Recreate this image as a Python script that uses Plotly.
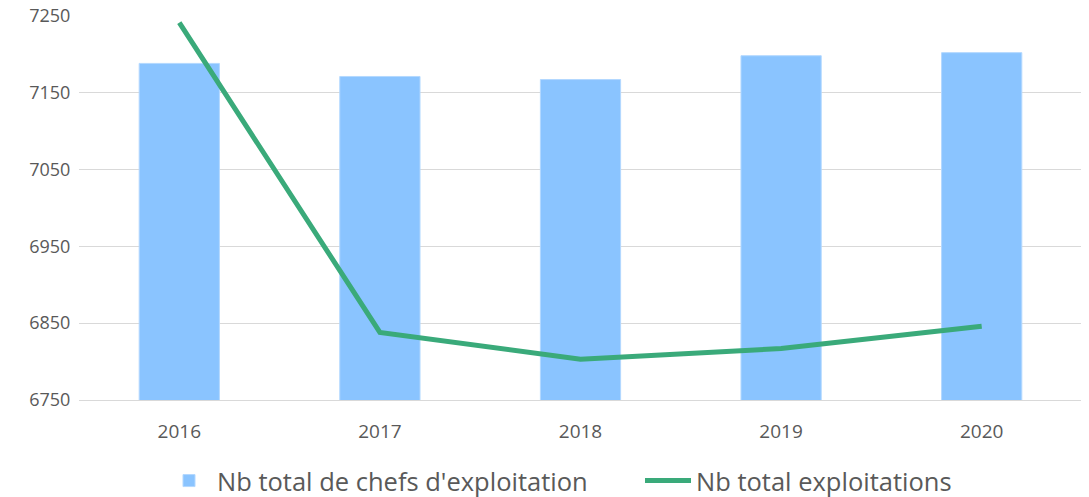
import plotly.graph_objects as go

years = ["2016", "2017", "2018", "2019", "2020"]
chefs = [7188, 7171, 7167, 7198, 7202]
exploitations = [7241, 6838, 6803, 6817, 6846]
y_ticks = [6750, 6850, 6950, 7050, 7150, 7250]

# the page body has an 8px margin, so the figure is made 8px smaller
W, H = 1081, 489

fig = go.Figure()
fig.add_trace(
    go.Bar(
        x=years,
        y=chefs,
        name="Nb total de chefs d'exploitation",
        marker=dict(color="#8AC4FF", line=dict(color="#B3D8FF", width=1)),
        legend="legend",
    )
)
fig.add_trace(
    go.Scatter(
        x=years,
        y=exploitations,
        mode="lines",
        name="Nb total exploitations",
        line=dict(color="#3AAA7A", width=5),
        legend="legend2",
    )
)

# two legends so each entry can sit where it does in the original
legend_style = dict(
    orientation="h",
    xref="container",
    yref="container",
    xanchor="left",
    y=1 - 473 / H,
    yanchor="middle",
    font=dict(size=25.5),
    itemwidth=46,
    bgcolor="rgba(0,0,0,0)",
)

fig.update_layout(
    width=W,
    height=H,
    margin=dict(l=71, r=7, t=7, b=97),
    plot_bgcolor="white",
    paper_bgcolor="white",
    bargap=0.6,
    showlegend=True,
    font=dict(family="Open Sans", color="#595959", size=15),
    legend=dict(legend_style, x=153 / W),
    legend2=dict(legend_style, x=632 / W),
)
fig.update_xaxes(
    automargin=False,
    showgrid=False,
    showline=True,
    linecolor="#D9D9D9",
    ticks="outside",
    ticklen=14,
    tickcolor="rgba(0,0,0,0)",
    tickfont=dict(size=19),
)
fig.update_yaxes(
    automargin=False,
    range=[6750, 7251],
    tickvals=y_ticks,
    gridcolor="#D9D9D9",
    zeroline=False,
    ticks="outside",
    ticklen=4,
    tickcolor="rgba(0,0,0,0)",
    tickfont=dict(size=18),
    ticklabeloverflow="allow",
)

fig.write_html("out.html")
